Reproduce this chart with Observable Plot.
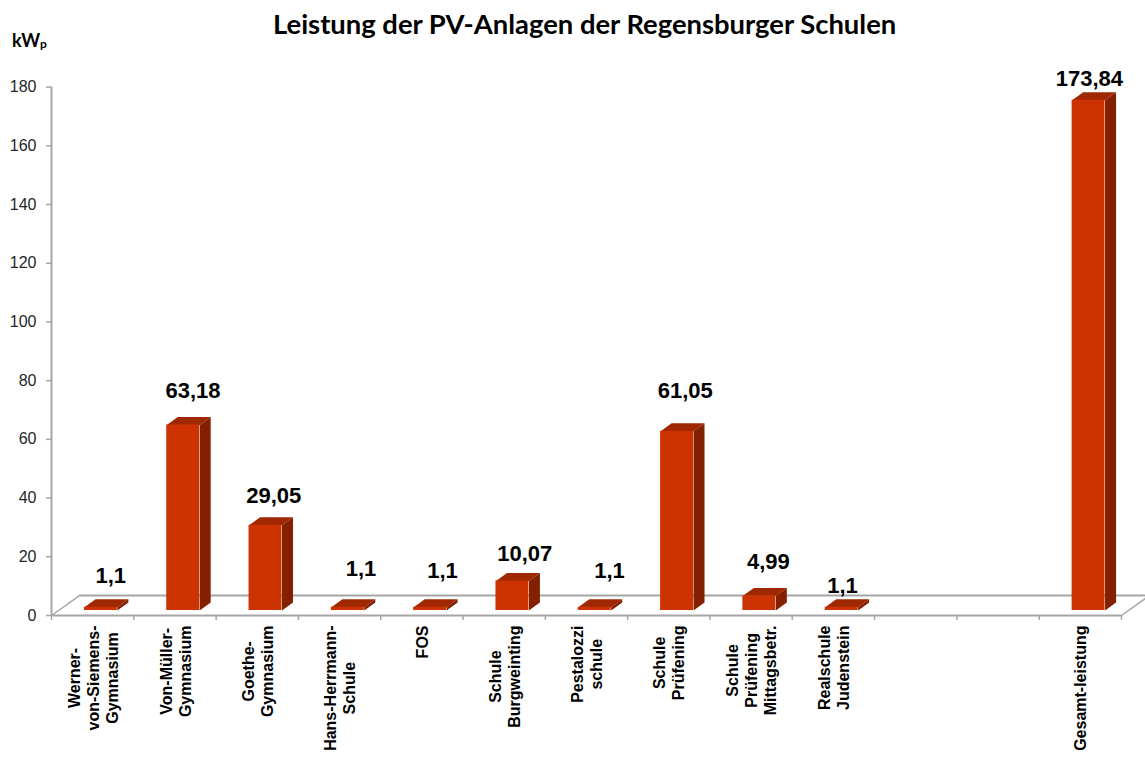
<!DOCTYPE html>
<html>
<head>
<meta charset="utf-8">
<script src="https://cdn.jsdelivr.net/npm/d3@7"></script>
<script src="https://cdn.jsdelivr.net/npm/@observablehq/plot@0.6"></script>
<style>
html,body{margin:0;padding:0;background:#fff;overflow:hidden}
#head{position:relative;height:60px;width:1145px}
#title{position:absolute;left:273px;top:7px;font:700 27.4px Lato,sans-serif;color:#000;white-space:nowrap}
#unit{position:absolute;left:12px;top:29px;font:700 18px Lato,sans-serif;color:#000}
#unit sub{font-size:12px;vertical-align:baseline;position:relative;top:1px}
svg{display:block}
</style>
</head>
<body>
<div id="head"><div id="title">Leistung der PV-Anlagen der Regensburger Schulen</div><div id="unit">kW<sub>p</sub></div></div>
<div id="chart"></div>
<script>
const categories = [
  "Werner-\nvon-Siemens-\nGymnasium", "Von-Müller-\nGymnasium", "Goethe-\nGymnasium",
  "Hans-Herrmann-\nSchule", "FOS", "Schule\nBurgweinting", "Pestalozzi\nschule",
  "Schule\nPrüfening", "Schule\nPrüfening\nMittagsbetr.", "Realschule\nJudenstein",
  "", "", "Gesamt-leistung"
];
const values = [1.1, 63.18, 29.05, 1.1, 1.1, 10.07, 1.1, 61.05, 4.99, 1.1, null, null, 173.84];
const valueLabels = ["1,1","63,18","29,05","1,1","1,1","10,07","1,1","61,05","4,99","1,1",null,null,"173,84"];

// hand placement of the value labels, as in the source chart (category units, kW units)
const labelShiftX = [.22,.22,.2,.26,.25,.25,.28,.2,.21,.11,0,0,.11];
const labelRaise  = [12.5,13.3,11.8,14.9,14.2,11,14.2,15.5,13.4,8.8,0,0,8.8];

// pseudo-3D geometry expressed in scale units
const barLeft = 0.40, barRight = 0.80, barBase = 1.7, barDepthX = 0.134, barDepthY = 2.72;
const floorDepthX = 0.34, floorDepthY = 6.8;
const colors = {front:"#cc3300", top:"#a02800", side:"#822000", axis:"#a6a6a6", text:"#262626"};
const sans = "'Liberation Sans', Arial, sans-serif";

const rows = categories.map((name,i)=>({name,i,value:values[i],label:valueLabels[i]}));
const bars = rows.filter(d=>d.value!=null);

const sidePts = bars.flatMap(d=>{
  const x=d.i+barRight, b=barBase, t=barBase+d.value;
  return [[x,b],[x+barDepthX,b+barDepthY],[x+barDepthX,t+barDepthY],[x,t]].map(([x,y])=>({id:d.i,x,y}));
});
const topPts = bars.flatMap(d=>{
  const l=d.i+barLeft, r=d.i+barRight, t=barBase+d.value;
  return [[l,t],[r,t],[r+barDepthX,t+barDepthY],[l+barDepthX,t+barDepthY]].map(([x,y])=>({id:d.i,x,y}));
});

const ctx = document.createElement("canvas").getContext("2d");
const catFontSize = 16;
ctx.font = `bold ${catFontSize}px 'Liberation Sans'`;
const catMarks = rows.filter(d=>d.name).map(d=>{
  const longest = d3.max(d.name.split("\n"),s=>ctx.measureText(s).width);
  return Plot.text([d],{
    x:r=>r.i+0.5, y:()=>0, text:"name", rotate:-90, textAnchor:"middle", lineAnchor:"middle",
    lineHeight:1.19, dy:10+longest/2, fontSize:catFontSize, fontWeight:"bold", fontFamily:sans, fill:"#000"
  });
});

const plot = Plot.plot({
  width:1145, height:698,
  marginLeft:51, marginRight:24, marginTop:26.6, marginBottom:143,
  x:{type:"linear",domain:[0,categories.length]},
  y:{domain:[0,180]},
  style:{background:"#fff",overflow:"hidden"},
  marks:[
    Plot.ruleY([floorDepthY],{x1:floorDepthX,x2:categories.length+floorDepthX,stroke:colors.axis,strokeWidth:2,clip:false}),
    Plot.link([0,categories.length],{x1:d=>d,y1:()=>0,x2:d=>d+floorDepthX,y2:()=>floorDepthY,stroke:colors.axis,strokeWidth:1.5}),
    Plot.axisY({ticks:d3.range(0,181,20),tickSize:5,tickPadding:10,stroke:colors.axis,fill:colors.text,fontSize:16,fontFamily:sans,label:null,strokeWidth:1.5}),
    Plot.axisX({ticks:d3.range(0,categories.length+1),tickSize:5,tickFormat:()=>"",stroke:colors.axis,label:null,strokeWidth:1.5}),
    Plot.ruleX([0],{y1:0,y2:180,stroke:colors.axis,strokeWidth:2}),
    Plot.ruleY([0],{stroke:colors.axis,strokeWidth:2}),
    Plot.line(topPts,{x:"x",y:"y",z:"id",fill:colors.top,stroke:"none",curve:"linear"}),
    Plot.line(sidePts,{x:"x",y:"y",z:"id",fill:colors.side,stroke:"none",curve:"linear"}),
    Plot.rect(bars,{x1:d=>d.i+barLeft,x2:d=>d.i+barRight,y1:()=>barBase,y2:d=>barBase+d.value,fill:colors.front}),
    Plot.text(bars,{x:d=>d.i+0.5+labelShiftX[d.i],y:d=>d.value+labelRaise[d.i],text:"label",fontSize:22,fontWeight:"bold",fontFamily:sans,fill:"#000"}),
    ...catMarks
  ]
});
document.getElementById("chart").appendChild(plot);
</script>
</body>
</html>
